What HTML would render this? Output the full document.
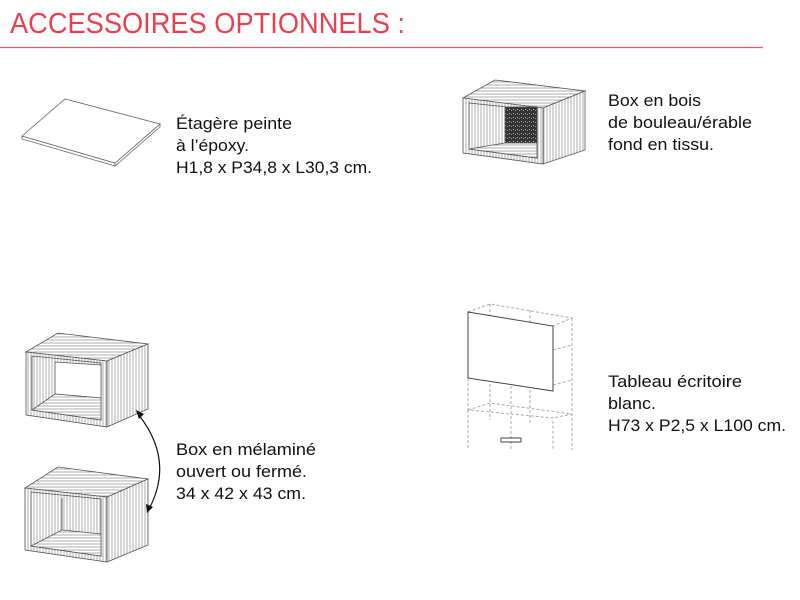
<!DOCTYPE html>
<html><head><meta charset="utf-8"><style>
html,body{margin:0;padding:0;background:#fff;width:800px;height:600px;overflow:hidden}
svg{display:block}
text{font-family:"Liberation Sans",sans-serif;fill:#111;font-size:17px}
</style></head><body>
<svg width="800" height="600" viewBox="0 0 800 600" xmlns="http://www.w3.org/2000/svg">
<defs>
<pattern id="vw" width="3" height="6" patternUnits="userSpaceOnUse"><rect width="3" height="6" fill="#fff"/><line x1="1" y1="0" x2="1" y2="6" stroke="#777" stroke-width="0.6"/></pattern>
<pattern id="hw" width="6" height="3" patternUnits="userSpaceOnUse"><rect width="6" height="3" fill="#fff"/><line x1="0" y1="1" x2="6" y2="1" stroke="#777" stroke-width="0.6"/></pattern>
<pattern id="fab" width="4" height="4" patternUnits="userSpaceOnUse"><rect width="4" height="4" fill="#333"/><rect x="1" y="1" width="1" height="1" fill="#bbb"/><rect x="3" y="2" width="1" height="1" fill="#999"/></pattern>
</defs>
<text x="10" y="33" textLength="395" lengthAdjust="spacingAndGlyphs" style="font-size:29px;fill:#ea3f50">ACCESSOIRES OPTIONNELS :</text>
<line x1="0" y1="47.5" x2="763" y2="47.5" stroke="#ea5a66" stroke-width="1.3"/>

<!-- shelf -->
<g fill="#fff" stroke="#666" stroke-width="0.8">
<polygon points="22,136 22,139 115,166 115,163"/>
<polygon points="115,163 115,166 160,127 160,124"/>
<polygon points="22,136 65,99 160,124 115,163"/>
</g>

<!-- wood box with fabric -->
<g stroke="#555" stroke-width="0.8">
<polygon points="463,98 495,80 585,91 543,108" fill="url(#hw)"/>
<polygon points="543,108 585,91 585,150 543,164" fill="url(#vw)"/>
<polygon points="463,98 543,108 543,164 463,153" fill="url(#vw)"/>
<polygon points="469,103 537,110 537,158 469,149" fill="url(#vw)"/>
<rect x="505" y="107" width="32" height="36" fill="url(#fab)"/>
<polygon points="469,149 505,143 537,143 537,158" fill="url(#hw)"/>
</g>
<text x="608" y="106" textLength="93" lengthAdjust="spacingAndGlyphs">Box en bois</text>
<text x="608" y="128" textLength="144" lengthAdjust="spacingAndGlyphs">de bouleau/érable</text>
<text x="608" y="150" textLength="106" lengthAdjust="spacingAndGlyphs">fond en tissu.</text>

<text x="176" y="129" textLength="116" lengthAdjust="spacingAndGlyphs">Étagère peinte</text>
<text x="176" y="151" textLength="73" lengthAdjust="spacingAndGlyphs">à l’époxy.</text>
<text x="176" y="173" textLength="196" lengthAdjust="spacingAndGlyphs">H1,8 x P34,8 x L30,3 cm.</text>

<!-- melamine boxes -->
<g stroke="#555" stroke-width="0.8">
<polygon points="26,352 58,333 148,344 107,361" fill="url(#hw)"/>
<polygon points="107,361 148,344 148,409 107,427" fill="url(#vw)"/>
<polygon points="26,352 107,361 107,427 26,415" fill="url(#vw)"/>
<polygon points="32,356 101,363 101,420 32,410" fill="url(#vw)"/>
<polygon points="55,362 101,365 101,398 55,394" fill="#fff"/>
<polygon points="32,410 55,394 101,398 101,420" fill="url(#hw)"/>
<polygon points="25,488 58,467 148,479 107,497" fill="url(#hw)"/>
<polygon points="107,497 148,479 148,545 107,562" fill="url(#vw)"/>
<polygon points="25,488 107,497 107,562 25,550" fill="url(#vw)"/>
<polygon points="31,492 101,499 101,556 31,546" fill="url(#vw)"/>
<line x1="62" y1="498" x2="62" y2="530"/>
<polygon points="31,546 62,530 101,534 101,556" fill="url(#hw)"/>
</g>
<path d="M138,414 Q175,460 149,509" fill="none" stroke="#111" stroke-width="1.2"/>
<polygon points="136,410 144,414 139,419" fill="#111"/>
<polygon points="147,513 146,504 153,507" fill="#111"/>
<text x="176" y="455" textLength="140" lengthAdjust="spacingAndGlyphs">Box en mélaminé</text>
<text x="176" y="477" textLength="131" lengthAdjust="spacingAndGlyphs">ouvert ou fermé.</text>
<text x="176" y="499" textLength="130" lengthAdjust="spacingAndGlyphs">34 x 42 x 43 cm.</text>

<!-- tableau -->
<g fill="none" stroke="#aaa" stroke-width="1" stroke-dasharray="3,2">
<polyline points="468,312 490,304 572,318 553,326"/>
<line x1="490" y1="304" x2="490" y2="420"/>
<line x1="530" y1="310" x2="530" y2="425"/>
<line x1="572" y1="318" x2="572" y2="450"/>
<line x1="553" y1="350" x2="572" y2="345"/>
<line x1="553" y1="385" x2="572" y2="380"/>
<polyline points="468,378 468,410 553,418 553,450"/>
<line x1="511" y1="386" x2="511" y2="450"/>
<polyline points="468,410 490,403 572,414 553,418"/>
<line x1="468" y1="410" x2="468" y2="450"/>
</g>
<polygon points="468,312 553,326 553,391 468,378" fill="#fff" stroke="#444" stroke-width="1"/>
<rect x="501" y="438" width="20" height="4" fill="none" stroke="#444" stroke-width="1"/>
<text x="608" y="387" textLength="134" lengthAdjust="spacingAndGlyphs">Tableau écritoire</text>
<text x="608" y="409" textLength="48" lengthAdjust="spacingAndGlyphs">blanc.</text>
<text x="608" y="431" textLength="178" lengthAdjust="spacingAndGlyphs">H73 x P2,5 x L100 cm.</text>
</svg>
</body></html>
